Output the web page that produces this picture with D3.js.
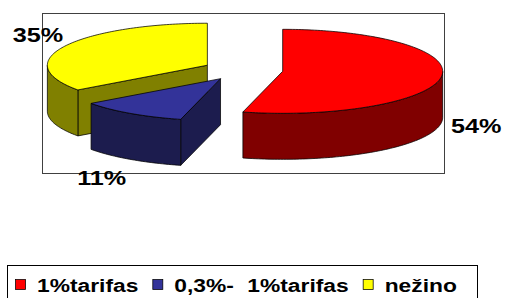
<!DOCTYPE html>
<html>
<head>
<meta charset="utf-8">
<script src="https://cdn.jsdelivr.net/npm/d3@7"></script>
<style>
  html, body { margin: 0; padding: 0; background: #ffffff; }
  svg { display: block; }
</style>
</head>
<body>
<div id="chart"></div>
<script>
// Data
const categories = ['1%tarifas', '0,3%- 1%tarifas', 'nežino'];
const shares = [54, 11, 35];
const shareLabels = ['54%', '11%', '35%'];
const topColours = ['#ff0000', '#333399', '#ffff00'];
const sideColours = ['#800000', '#1c1c4e', '#808000'];

const W = 507, H = 298;
const FONT = '"Liberation Sans", Arial, sans-serif';

const svg = d3.select('#chart').append('svg')
  .attr('width', W)
  .attr('height', H)
  .style('background', '#ffffff');

// Plot area frame
const plot = { x: 42, y: 13, w: 402, h: 160 };
svg.append('rect')
  .attr('x', plot.x + 0.5).attr('y', plot.y + 0.5)
  .attr('width', plot.w).attr('height', plot.h)
  .attr('fill', 'none')
  .attr('stroke', '#404040')
  .attr('stroke-width', 1);

// 3D pie geometry
const cx0 = 243, cy0 = 70;
const rx = 160, ry = 42, depth = 46;
const explode = 0.25;

const pie = d3.pie().sort(null).startAngle(0).endAngle(2 * Math.PI);
const arcs = pie(shares).map((d, i) => {
  const mid = (d.startAngle + d.endAngle) / 2;
  return {
    ...d,
    i,
    mid,
    cx: cx0 + explode * rx * Math.sin(mid),
    cy: cy0 - explode * ry * Math.cos(mid)
  };
});

function pt(s, a, z = 0) {
  return [s.cx + rx * Math.sin(a), s.cy - ry * Math.cos(a) + z];
}

function arcPoints(s, a0, a1, z = 0) {
  const n = Math.max(2, Math.ceil((a1 - a0) / 0.02));
  return d3.range(n + 1).map(k => pt(s, a0 + (a1 - a0) * k / n, z));
}

const line = d3.line();
const g = svg.append('g');

function face(sel, pts, fill) {
  sel.append('path')
    .attr('d', line(pts) + 'Z')
    .attr('fill', fill)
    .attr('stroke', '#000')
    .attr('stroke-width', 0.75)
    .attr('stroke-linejoin', 'round');
}

// back slices first
const order = arcs.slice().sort((a, b) => a.cy - b.cy);

for (const s of order) {
  const sg = g.append('g');
  const a0 = s.startAngle, a1 = s.endAngle;
  const c = [s.cx, s.cy];
  const cb = [s.cx, s.cy + depth];

  // radial faces, only the ones turned towards the viewer
  if (Math.sin(a0) < -1e-6) face(sg, [c, pt(s, a0), pt(s, a0, depth), cb], sideColours[s.i]);
  if (Math.sin(a1) > 1e-6) face(sg, [c, pt(s, a1), pt(s, a1, depth), cb], sideColours[s.i]);

  // outer wall, front half only
  const w0 = Math.max(a0, Math.PI / 2), w1 = Math.min(a1, 3 * Math.PI / 2);
  if (w1 > w0) {
    face(sg, arcPoints(s, w0, w1).concat(arcPoints(s, w0, w1, depth).reverse()), sideColours[s.i]);
  }
  // top face
  face(sg, [c].concat(arcPoints(s, a0, a1)), topColours[s.i]);
}

// Percentage labels outside the slices
const stretch = 1.2;
for (const s of arcs) {
  const sn = Math.sin(s.mid), cs = Math.cos(s.mid);
  const front = -cs > 0;
  const ax = s.cx + rx * sn;
  const ay = s.cy - ry * cs + (front ? depth : 0);
  const tx = ax + (Math.sign(sn) * 21 + sn * 14) * (front ? 1 : 0.8);
  const ty = ay - cs * (front ? 22 : 26);
  svg.append('text')
    .attr('transform', `translate(${tx},${ty}) scale(${stretch},1)`)
    .attr('text-anchor', 'middle')
    .attr('dy', '0.36em')
    .attr('font-family', FONT)
    .attr('font-weight', 'bold')
    .attr('font-size', 21)
    .attr('fill', '#000')
    .text(shareLabels[s.i]);
}

// Legend
const legendBox = { x: 7, y: 265, w: 470, h: 40 };
svg.append('rect')
  .attr('x', legendBox.x + 0.5).attr('y', legendBox.y + 0.5)
  .attr('width', legendBox.w).attr('height', legendBox.h)
  .attr('fill', '#ffffff')
  .attr('stroke', '#000')
  .attr('stroke-width', 1);

const legend = svg.append('g').attr('transform', 'translate(15, 279)');
let lx = 0;
categories.forEach((name, i) => {
  legend.append('rect')
    .attr('x', lx + 0.5).attr('y', 0.5)
    .attr('width', 10).attr('height', 10)
    .attr('fill', topColours[i])
    .attr('stroke', '#000')
    .attr('stroke-width', 0.75);
  const t = legend.append('text')
    .attr('transform', `translate(${lx + 22},13) scale(${stretch},1)`)
    .attr('font-family', FONT)
    .attr('font-weight', 'bold')
    .attr('font-size', 19)
    .attr('word-spacing', 6)
    .attr('fill', '#000')
    .text(name);
  lx += 22 + t.node().getBBox().width * stretch + 14;
});
</script>
</body>
</html>
